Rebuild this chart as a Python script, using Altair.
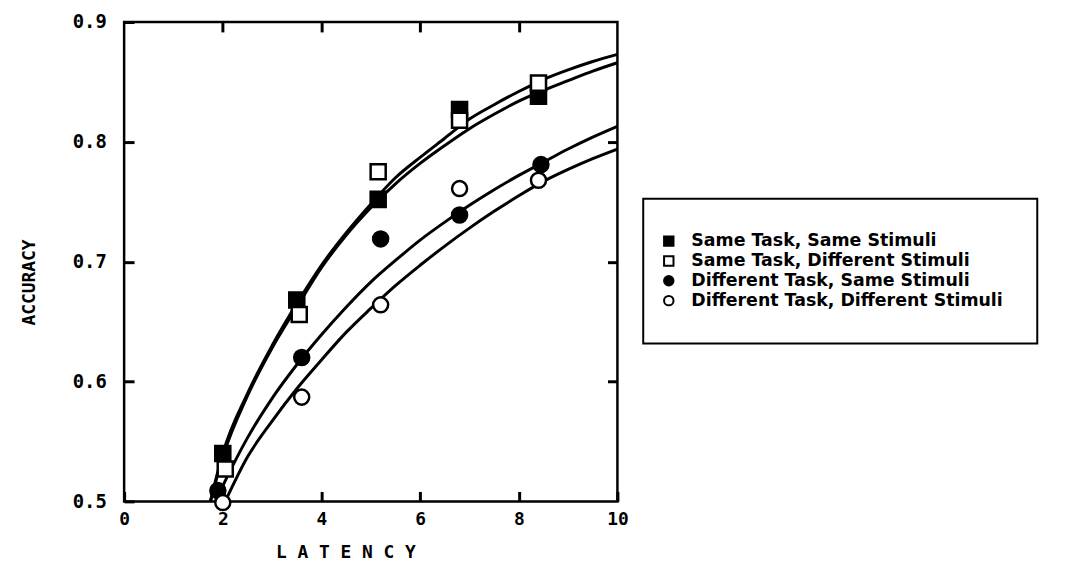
import altair as alt
import pandas as pd

SERIES = [
    "Same Task, Same Stimuli",
    "Same Task, Different Stimuli",
    "Different Task, Same Stimuli",
    "Different Task, Different Stimuli",
]
FILLS = ["black", "white", "black", "white"]
SHAPES = ["square", "square", "circle", "circle"]
STROKES = ["black", "black", "black", "black"]

# observed data points (latency, accuracy)
OBS_X = [
    [2.0, 3.5, 5.15, 6.8, 8.4],
    [2.05, 3.55, 5.15, 6.8, 8.4],
    [1.9, 3.6, 5.2, 6.8, 8.45],
    [2.0, 3.6, 5.2, 6.8, 8.4],
]
OBS_Y = [
    [0.540, 0.668, 0.752, 0.827, 0.838],
    [0.527, 0.656, 0.775, 0.818, 0.849],
    [0.509, 0.620, 0.719, 0.739, 0.781],
    [0.499, 0.587, 0.664, 0.761, 0.768],
]

# fitted curves
FIT_X = [
    [1.75, 2.0, 2.5, 3.0, 3.5, 4.0, 4.5, 5.0, 5.5, 6.0, 6.5, 7.0, 7.5, 8.0, 8.5, 9.0, 9.5, 10.0],
    [1.75, 2.0, 2.5, 3.0, 3.5, 4.0, 4.5, 5.0, 5.5, 6.0, 6.5, 7.0, 7.5, 8.0, 8.5, 9.0, 9.5, 10.0],
    [1.85, 2.0, 2.5, 3.0, 3.5, 4.0, 4.5, 5.0, 5.5, 6.0, 6.5, 7.0, 7.5, 8.0, 8.5, 9.0, 9.5, 10.0],
    [2.05, 2.5, 3.0, 3.5, 4.0, 4.5, 5.0, 5.5, 6.0, 6.5, 7.0, 7.5, 8.0, 8.5, 9.0, 9.5, 10.0],
]
FIT_Y = [
    [0.500, 0.540, 0.590, 0.630, 0.665, 0.697, 0.724, 0.748, 0.770, 0.787, 0.803, 0.819, 0.831, 0.842, 0.852, 0.860, 0.867, 0.873],
    [0.500, 0.537, 0.588, 0.628, 0.662, 0.695, 0.722, 0.745, 0.765, 0.782, 0.797, 0.811, 0.823, 0.834, 0.843, 0.851, 0.859, 0.866],
    [0.500, 0.513, 0.553, 0.586, 0.614, 0.639, 0.662, 0.683, 0.701, 0.718, 0.733, 0.747, 0.760, 0.772, 0.783, 0.794, 0.804, 0.813],
    [0.500, 0.537, 0.567, 0.594, 0.618, 0.641, 0.661, 0.680, 0.697, 0.713, 0.728, 0.742, 0.755, 0.767, 0.777, 0.786, 0.794],
]

X_LABELS = [0, 2, 4, 6, 8, 10]
Y_LABELS = [0.5, 0.6, 0.7, 0.8, 0.9]

obs_rows = []
for s, xs, ys in zip(SERIES, OBS_X, OBS_Y):
    for x, y in zip(xs, ys):
        obs_rows.append({"series": s, "latency": x, "accuracy": y})
obs = pd.DataFrame(obs_rows)

fit_rows = []
for s, xs, ys in zip(SERIES, FIT_X, FIT_Y):
    for i, (x, y) in enumerate(zip(xs, ys)):
        fit_rows.append({"series": s, "latency": x, "accuracy": y, "order": i})
fit = pd.DataFrame(fit_rows)

TICK_FONT = "DejaVu Sans Mono"

xscale = alt.Scale(domain=[0, 10], nice=False, zero=False)
yscale = alt.Scale(domain=[0.5, 0.9], nice=False, zero=False)

lines = alt.Chart(fit).mark_line(color="black", strokeWidth=3, interpolate="monotone").encode(
    x=alt.X("latency:Q", scale=xscale, axis=alt.Axis(
        orient="bottom", values=X_LABELS, offset=-10, tickSize=10, tickWidth=3,
        tickColor="black", domain=False, grid=False, labelFont=TICK_FONT,
        labelFontWeight="bold", labelFontSize=18, labelColor="black",
        labelPadding=9, labelFlush=False, title="L A T E N C Y",
        titleFont=TICK_FONT, titleFontSize=18, titleFontWeight="bold",
        titleColor="black", titleX=223, titleY=62, titleAlign="center",
        titleBaseline="middle")),
    y=alt.Y("accuracy:Q", scale=yscale, axis=alt.Axis(
        orient="left", values=Y_LABELS, format=".1f", offset=-10, tickSize=10,
        tickWidth=3, tickColor="black", domain=False, grid=False,
        labelFont=TICK_FONT, labelFontWeight="bold", labelFontSize=19,
        labelColor="black", labelPadding=18, labelFlush=False,
        title="ACCURACY", titleFont=TICK_FONT, titleFontSize=18,
        titleFontWeight="bold", titleColor="black", titleAngle=270,
        titleX=-105, titleY=262, titleAlign="center", titleBaseline="middle")),
    detail="series:N",
    order="order:Q",
)

legend = alt.Legend(
    orient="none", legendX=523, legendY=178, title=None, padding=34,
    strokeColor="black", labelFont="DejaVu Sans", labelFontSize=17.5,
    labelFontWeight="bold", labelColor="black", symbolSize=90,
    symbolStrokeColor="black", symbolStrokeWidth=2, symbolOffset=-17,
    labelOffset=14, rowPadding=1, labelLimit=0,
)

points = alt.Chart(obs).mark_point(
    filled=True, strokeWidth=2.5, size=230, opacity=1
).encode(
    x=alt.X("latency:Q", scale=xscale, axis=alt.Axis(
        orient="top", values=[2, 4, 6, 8], offset=-10, tickSize=10, tickWidth=3,
        tickColor="black", domain=False, grid=False, labels=False, title=None)),
    y=alt.Y("accuracy:Q", scale=yscale, axis=alt.Axis(
        orient="right", values=[0.6, 0.7, 0.8], offset=-10, tickSize=10,
        tickWidth=3, tickColor="black", domain=False, grid=False, labels=False,
        title=None)),
    fill=alt.Fill("series:N", scale=alt.Scale(domain=SERIES, range=FILLS), legend=legend),
    shape=alt.Shape("series:N", scale=alt.Scale(domain=SERIES, range=SHAPES), legend=legend),
    stroke=alt.Stroke("series:N", scale=alt.Scale(domain=SERIES, range=STROKES), legend=legend),
)

chart = alt.layer(lines, points).resolve_scale(
    x="independent", y="independent"
).properties(
    width=497, height=483, autosize="none",
    padding={"left": 117, "top": 12, "right": 458, "bottom": 62},
    background="white",
).configure_view(
    stroke="black", strokeWidth=2.5
).configure_legend(
    strokeWidth=2
)

chart.save("out.html", embed_options={"renderer": "svg", "actions": False})
